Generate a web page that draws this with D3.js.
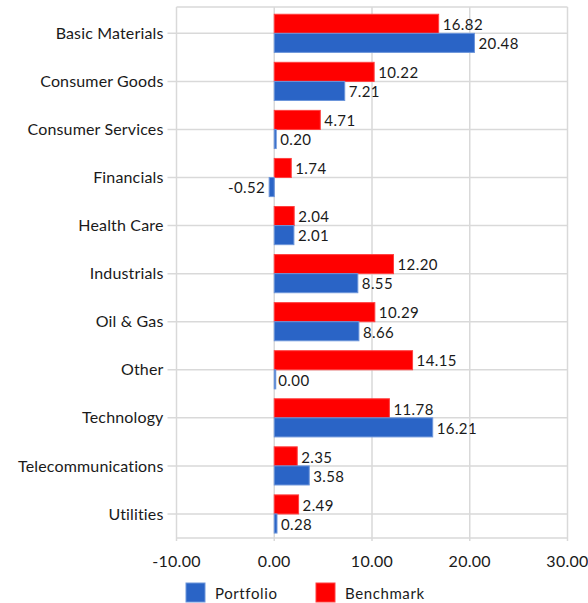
<!DOCTYPE html>
<html><head><meta charset="utf-8">
<script src="https://cdn.jsdelivr.net/npm/d3@7"></script>
<style>body{margin:0;background:#fff}svg{display:block}text{font-family:Lato,"Open Sans",sans-serif;fill:#1a1a1a}</style>
</head><body>
<script>
const categories = ["Basic Materials","Consumer Goods","Consumer Services","Financials","Health Care","Industrials","Oil & Gas","Other","Technology","Telecommunications","Utilities"];
const portfolio = [20.48,7.21,0.20,-0.52,2.01,8.55,8.66,0.00,16.21,3.58,0.28];
const benchmark = [16.82,10.22,4.71,1.74,2.04,12.20,10.29,14.15,11.78,2.35,2.49];
const xTicks = [-10,0,10,20,30];
const seriesNames = ["Portfolio","Benchmark"];
const colors = {Portfolio:"#2A64C6", Benchmark:"#FF0000"};

const W=588,H=603;
const svg=d3.select("body").append("svg").attr("width",W).attr("height",H);
const pL=176.5,pR=567.5,pT=9.3,pB=538;
const x=d3.scaleLinear().domain([-10,30]).range([pL,pR]);
const y=d3.scaleBand().domain(categories).range([pT,pB]).paddingInner(0).paddingOuter(0);
const inner=d3.scaleBand().domain(["Benchmark","Portfolio"]).range([0,y.bandwidth()]).paddingInner(0).paddingOuter(0.26);
const grid="#D9D9D9";

const g=svg.append("g");
g.selectAll(".vg").data(xTicks).join("line").attr("x1",d=>x(d)).attr("x2",d=>x(d)).attr("y1",7).attr("y2",pB+3).attr("stroke",grid).attr("stroke-width",1.5);
g.append("line").attr("x1",pL).attr("x2",pR).attr("y1",7).attr("y2",7).attr("stroke",grid).attr("stroke-width",1.5);
g.append("line").attr("x1",pL).attr("x2",pR).attr("y1",pB).attr("y2",pB).attr("stroke",grid).attr("stroke-width",1.5);
g.selectAll(".hg").data(categories).join("line").attr("x1",pL-9).attr("x2",pR).attr("y1",d=>y(d)+y.bandwidth()/2).attr("y2",d=>y(d)+y.bandwidth()/2).attr("stroke",grid).attr("stroke-width",1.5);

svg.selectAll(".cl").data(categories).join("text").attr("x",pL-13).attr("y",d=>y(d)+y.bandwidth()/2).attr("dy","0.35em").attr("text-anchor","end").attr("font-size",16).attr("letter-spacing",0.15).text(d=>d);

svg.selectAll(".xl").data(xTicks).join("text").attr("x",d=>x(d)).attr("y",567).attr("text-anchor","middle").attr("font-size",16).attr("letter-spacing",0.3).text(d=>d.toFixed(2));

const rows=categories.map((c,i)=>({c,Portfolio:portfolio[i],Benchmark:benchmark[i]}));
["Benchmark","Portfolio"].forEach(s=>{
  const bars=svg.append("g");
  bars.selectAll("rect").data(rows).join("rect")
    .attr("x",d=>x(Math.min(0,d[s]))).attr("width",d=>Math.max(1.5,Math.abs(x(d[s])-x(0))))
    .attr("y",d=>y(d.c)+inner(s)).attr("height",inner.bandwidth())
    .attr("fill",colors[s]).attr("stroke",s==="Portfolio"?"#6C95DA":"#FF4040").attr("stroke-width",1);
  bars.selectAll("text").data(rows).join("text")
    .attr("x",d=>d[s]<0?x(d[s])-4:x(d[s])+4)
    .attr("y",d=>y(d.c)+inner(s)+inner.bandwidth()/2+1).attr("dy","0.35em")
    .attr("text-anchor",d=>d[s]<0?"end":"start").attr("font-size",15).attr("letter-spacing",0.4).text(d=>d[s].toFixed(2));
});

const lg=svg.append("g");
const lx=[186,316];
seriesNames.forEach((s,i)=>{
  lg.append("rect").attr("x",lx[i]).attr("y",583).attr("width",19).attr("height",19).attr("fill",colors[s]).attr("stroke",s==="Portfolio"?"#6C95DA":"#FF4040");
  lg.append("text").attr("x",lx[i]+29).attr("y",599).attr("font-size",15).attr("letter-spacing",0.6).text(s);
});
</script>
</body></html>
